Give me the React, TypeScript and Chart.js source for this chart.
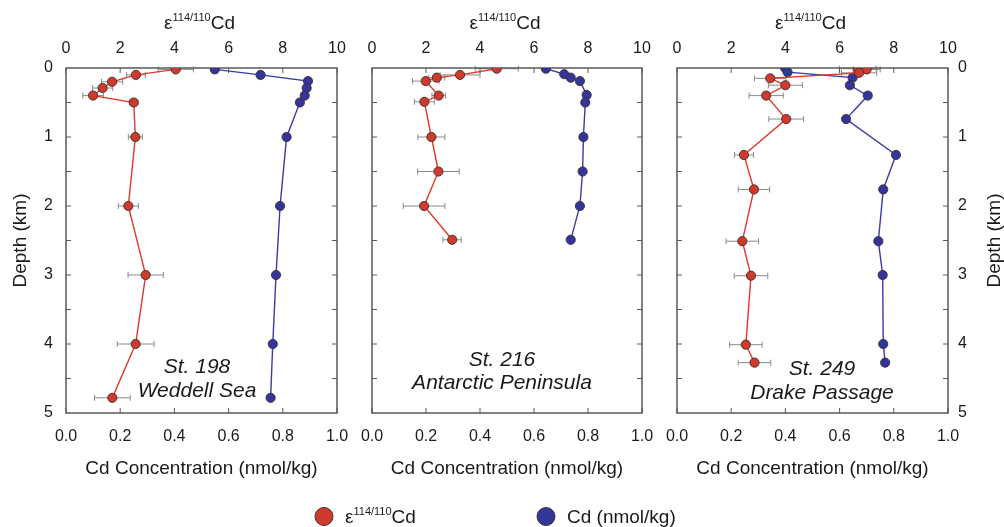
import React, { useEffect, useRef } from "react";
import { Chart, registerables } from "chart.js";

Chart.register(...registerables);

// ---------- data ----------
// St. 198 (Weddell Sea)
const st198EpsDepth = [0.02, 0.1, 0.2, 0.29, 0.4, 0.5, 1.0, 2.0, 3.0, 4.0, 4.78];
const st198Eps = [4.05, 2.58, 1.7, 1.35, 1.0, 2.5, 2.56, 2.3, 2.94, 2.57, 1.71];
const st198EpsErr = [0.65, 0.35, 0.39, 0.37, 0.38, 0.15, 0.26, 0.37, 0.65, 0.68, 0.66];
const st198CdDepth = [0.02, 0.1, 0.19, 0.29, 0.4, 0.5, 1.0, 2.0, 3.0, 4.0, 4.78];
const st198Cd = [0.549, 0.718, 0.893, 0.888, 0.881, 0.863, 0.814, 0.79, 0.775, 0.763, 0.755];

// St. 216 (Antarctic Peninsula)
const st216EpsDepth = [0.01, 0.1, 0.14, 0.19, 0.4, 0.49, 1.0, 1.5, 2.0, 2.49];
const st216Eps = [4.62, 3.26, 2.4, 1.99, 2.47, 1.94, 2.2, 2.46, 1.93, 2.97];
const st216EpsErr = [0.8, 0.74, 0.3, 0.49, 0.25, 0.37, 0.5, 0.77, 0.77, 0.34];
const st216CdDepth = [0.01, 0.09, 0.14, 0.19, 0.39, 0.5, 1.0, 1.5, 2.0, 2.49];
const st216Cd = [0.644, 0.712, 0.736, 0.77, 0.795, 0.79, 0.783, 0.78, 0.77, 0.736];

// St. 249 (Drake Passage)
const st249EpsDepth = [0.01, 0.02, 0.07, 0.15, 0.25, 0.4, 0.74, 1.26, 1.76, 2.51, 3.01, 4.01, 4.27];
const st249Eps = [6.67, 7.0, 6.72, 3.44, 4.0, 3.29, 4.03, 2.47, 2.84, 2.41, 2.73, 2.54, 2.86];
const st249EpsErr = [0.68, 0.5, 0.65, 0.58, 0.63, 0.63, 0.64, 0.35, 0.58, 0.6, 0.62, 0.6, 0.6];
const st249CdDepth = [0.0, 0.06, 0.14, 0.25, 0.4, 0.74, 1.26, 1.76, 2.51, 3.0, 4.0, 4.27];
const st249Cd = [0.399, 0.408, 0.648, 0.638, 0.704, 0.624, 0.808, 0.761, 0.743, 0.759, 0.761, 0.768];

const stationNames = ["St. 198", "St. 216", "St. 249"];
const regionNames = ["Weddell Sea", "Antarctic Peninsula", "Drake Passage"];

const depthMinorMarks = [0.5, 1, 1.5, 2, 2.5, 3, 3.5, 4, 4.5];
const legendEpsLabel = ["ε", "114/110", "Cd"];
const legendCdLabel = "Cd (nmol/kg)";
const xBottomTitle = "Cd Concentration (nmol/kg)";
const yTitle = "Depth (km)";

// ---------- styles ----------
const FONT = "'Liberation Sans', Arial, Helvetica, sans-serif";
const RED_FILL = "#d03a2c";
const RED_LINE = "#e0392c";
const BLUE_FILL = "#33359a";
const BLUE_LINE = "#3a3ca6";
const POINT_EDGE = "#3a3030";
const FRAME = "#5a5a5a";
const ERR = "#8a8a8a";
const TEXT = "#1a1a1a";

type Panel = {
  station: string;
  region: string;
  epsDepth: number[];
  eps: number[];
  epsErr: number[];
  cdDepth: number[];
  cd: number[];
};

const panels: Panel[] = [
  { station: stationNames[0], region: regionNames[0], epsDepth: st198EpsDepth, eps: st198Eps, epsErr: st198EpsErr, cdDepth: st198CdDepth, cd: st198Cd },
  { station: stationNames[1], region: regionNames[1], epsDepth: st216EpsDepth, eps: st216Eps, epsErr: st216EpsErr, cdDepth: st216CdDepth, cd: st216Cd },
  { station: stationNames[2], region: regionNames[2], epsDepth: st249EpsDepth, eps: st249Eps, epsErr: st249EpsErr, cdDepth: st249CdDepth, cd: st249Cd },
];

type Layout = {
  padLeft: number;
  padRight: number;
  yPos: "left" | "right";
  yWidth: number;
  yLabels: boolean;
  yTitleLeft: boolean;
  yTitleRight: boolean;
  labelX: number;
  labelY1: number;
  labelY2: number;
  legend: boolean;
};

const layouts: Layout[] = [
  { padLeft: 0, padRight: 667, yPos: "left", yWidth: 66, yLabels: true, yTitleLeft: true, yTitleRight: false, labelX: 197, labelY1: 367, labelY2: 391, legend: false },
  { padLeft: 372, padRight: 362, yPos: "left", yWidth: 0, yLabels: false, yTitleLeft: false, yTitleRight: false, labelX: 502, labelY1: 360, labelY2: 383, legend: true },
  { padLeft: 677, padRight: 0, yPos: "right", yWidth: 56, yLabels: true, yTitleLeft: false, yTitleRight: true, labelX: 822, labelY1: 369, labelY2: 393, legend: false },
];

function drawEps(ctx: CanvasRenderingContext2D, x: number, baseline: number, big: number, small: number, center: boolean) {
  const parts = [
    { t: legendEpsLabel[0], f: big, dy: 0 },
    { t: legendEpsLabel[1], f: small, dy: -8 },
    { t: legendEpsLabel[2], f: big, dy: 0 },
  ];
  let total = 0;
  const widths = parts.map((p) => {
    ctx.font = `${p.f}px ${FONT}`;
    const w = ctx.measureText(p.t).width;
    total += w;
    return w;
  });
  let cx = center ? x - total / 2 : x;
  ctx.textAlign = "left";
  ctx.textBaseline = "alphabetic";
  parts.forEach((p, i) => {
    ctx.font = `${p.f}px ${FONT}`;
    ctx.fillText(p.t, cx, baseline + p.dy);
    cx += widths[i];
  });
}

function makeDeco(p: Panel, L: Layout) {
  return {
    id: "deco",
    beforeDatasetsDraw(chart: any) {
      const { ctx, chartArea: a, scales } = chart;
      const xe = scales.x2;
      const xc = scales.x;
      const ys = scales.y;
      ctx.save();
      // error bars
      ctx.strokeStyle = ERR;
      ctx.lineWidth = 1;
      p.epsDepth.forEach((d, i) => {
        const y = ys.getPixelForValue(d);
        const x0 = xe.getPixelForValue(p.eps[i] - p.epsErr[i]);
        const x1 = xe.getPixelForValue(p.eps[i] + p.epsErr[i]);
        ctx.beginPath();
        ctx.moveTo(x0, y);
        ctx.lineTo(x1, y);
        ctx.moveTo(x0, y - 3);
        ctx.lineTo(x0, y + 3);
        ctx.moveTo(x1, y - 3);
        ctx.lineTo(x1, y + 3);
        ctx.stroke();
      });
      // frame
      ctx.strokeStyle = FRAME;
      ctx.lineWidth = 1.5;
      ctx.strokeRect(a.left, a.top, a.right - a.left, a.bottom - a.top);
      // inner ticks
      ctx.lineWidth = 1;
      ctx.beginPath();
      depthMinorMarks.forEach((v) => {
        const y = ys.getPixelForValue(v);
        ctx.moveTo(a.left, y);
        ctx.lineTo(a.left + 5, y);
        ctx.moveTo(a.right - 5, y);
        ctx.lineTo(a.right, y);
      });
      xe.ticks.forEach((t: any) => {
        const x = xe.getPixelForValue(t.value);
        ctx.moveTo(x, a.top);
        ctx.lineTo(x, a.top + 5);
      });
      xc.ticks.forEach((t: any) => {
        const x = xc.getPixelForValue(t.value);
        ctx.moveTo(x, a.bottom);
        ctx.lineTo(x, a.bottom - 5);
      });
      ctx.stroke();
      ctx.restore();
    },
    afterDraw(chart: any) {
      const { ctx, chartArea: a } = chart;
      ctx.save();
      ctx.fillStyle = TEXT;
      // top title
      drawEps(ctx, (a.left + a.right) / 2 - 2, 29, 19, 11, true);
      // station labels
      ctx.font = `italic 21px ${FONT}`;
      ctx.textAlign = "center";
      ctx.textBaseline = "middle";
      ctx.fillText(p.station, L.labelX, L.labelY1);
      ctx.fillText(p.region, L.labelX, L.labelY2);
      // right-side depth title
      if (L.yTitleRight) {
        ctx.save();
        ctx.translate(995, (a.top + a.bottom) / 2);
        ctx.rotate(-Math.PI / 2);
        ctx.font = `19px ${FONT}`;
        ctx.textAlign = "center";
        ctx.textBaseline = "middle";
        ctx.fillText(yTitle, 0, 0);
        ctx.restore();
      }
      // legend
      if (L.legend) {
        const cy = 516.5;
        ctx.lineWidth = 1;
        ctx.strokeStyle = POINT_EDGE;
        ctx.fillStyle = RED_FILL;
        ctx.beginPath();
        ctx.arc(324, cy, 9, 0, Math.PI * 2);
        ctx.fill();
        ctx.stroke();
        ctx.fillStyle = BLUE_FILL;
        ctx.beginPath();
        ctx.arc(546, cy, 9, 0, Math.PI * 2);
        ctx.fill();
        ctx.stroke();
        ctx.fillStyle = TEXT;
        drawEps(ctx, 345, 523, 19, 11, false);
        ctx.font = `19px ${FONT}`;
        ctx.textAlign = "left";
        ctx.textBaseline = "alphabetic";
        ctx.fillText(legendCdLabel, 567, 523);
      }
      ctx.restore();
    },
  };
}

function makeChart(canvas: HTMLCanvasElement, idx: number) {
  const p = panels[idx];
  const L = layouts[idx];
  const tickFont = { size: 16, family: FONT };
  return new Chart(canvas, {
    type: "scatter",
    data: {
      datasets: [
        {
          label: "eps",
          data: p.epsDepth.map((d, i) => ({ x: p.eps[i], y: d })),
          xAxisID: "x2",
          yAxisID: "y",
          showLine: true,
          borderColor: RED_LINE,
          borderWidth: 1.4,
          backgroundColor: RED_FILL,
          pointBackgroundColor: RED_FILL,
          pointBorderColor: POINT_EDGE,
          pointBorderWidth: 0.9,
          pointRadius: 4.6,
          tension: 0,
        } as any,
        {
          label: "cd",
          data: p.cdDepth.map((d, i) => ({ x: p.cd[i], y: d })),
          xAxisID: "x",
          yAxisID: "y",
          showLine: true,
          borderColor: BLUE_LINE,
          borderWidth: 1.4,
          backgroundColor: BLUE_FILL,
          pointBackgroundColor: BLUE_FILL,
          pointBorderColor: POINT_EDGE,
          pointBorderWidth: 0.9,
          pointRadius: 4.6,
          tension: 0,
        } as any,
      ],
    },
    options: {
      responsive: false,
      animation: false,
      events: [],
      layout: { padding: { left: L.padLeft, right: L.padRight, top: 0, bottom: 0 } },
      plugins: { legend: { display: false }, tooltip: { enabled: false } },
      scales: {
        x: {
          type: "linear",
          position: "bottom",
          min: 0,
          max: 1,
          ticks: {
            stepSize: 0.2,
            padding: 14,
            font: tickFont,
            color: TEXT,
            maxRotation: 0,
            autoSkip: false,
            callback: (v: any) => Number(v).toFixed(1),
          },
          grid: { display: false, drawTicks: false },
          border: { display: false },
          title: { display: true, text: xBottomTitle, color: TEXT, font: { size: 19, family: FONT }, padding: { top: 0, bottom: 47 } },
          afterFit: (s: any) => {
            s.height = 114;
          },
        },
        x2: {
          type: "linear",
          position: "top",
          min: 0,
          max: 10,
          ticks: { stepSize: 2, padding: 10, font: tickFont, color: TEXT, maxRotation: 0, autoSkip: false },
          grid: { display: false, drawTicks: false },
          border: { display: false },
          afterFit: (s: any) => {
            s.height = 68;
          },
        },
        y: {
          type: "linear",
          position: L.yPos,
          reverse: true,
          min: 0,
          max: 5,
          ticks: { display: L.yLabels, stepSize: 1, padding: L.yPos === "left" ? 13 : 10, font: tickFont, color: TEXT, autoSkip: false },
          grid: { display: false, drawTicks: false },
          border: { display: false },
          title: { display: L.yTitleLeft, text: yTitle, color: TEXT, font: { size: 19, family: FONT }, padding: { top: 9, bottom: 0 } },
          afterFit: (s: any) => {
            s.width = L.yWidth;
          },
        },
      },
    } as any,
    plugins: [makeDeco(p, L)],
  });
}

export default function App() {
  const r0 = useRef<HTMLCanvasElement>(null);
  const r1 = useRef<HTMLCanvasElement>(null);
  const r2 = useRef<HTMLCanvasElement>(null);

  useEffect(() => {
    const refs = [r0, r1, r2];
    const charts = refs.map((r, i) => makeChart(r.current as HTMLCanvasElement, i));
    return () => charts.forEach((c) => c.destroy());
  }, []);

  const canvasStyle: React.CSSProperties = { position: "absolute", left: 0, top: 0, width: 1004, height: 527 };
  return (
    <div style={{ position: "absolute", left: 0, top: 0, width: 1004, height: 527, background: "#fff", overflow: "hidden" }}>
      <canvas ref={r0} width={1004} height={527} style={canvasStyle} />
      <canvas ref={r1} width={1004} height={527} style={canvasStyle} />
      <canvas ref={r2} width={1004} height={527} style={canvasStyle} />
    </div>
  );
}
